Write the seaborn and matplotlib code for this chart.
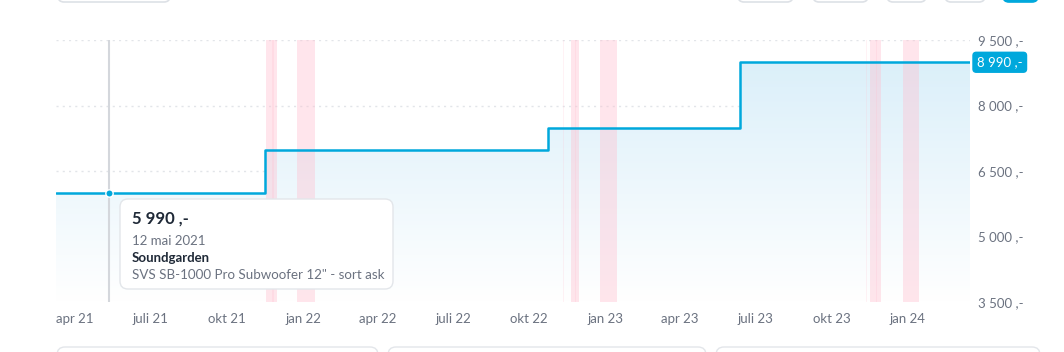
import numpy as np
import pandas as pd
import seaborn as sns
import matplotlib.pyplot as plt
import matplotlib.dates as mdates
from matplotlib.patches import FancyBboxPatch
from matplotlib.colors import LinearSegmentedColormap

# price history (step changes), last point repeats price to the end of the range
change_dates = ["2021-03-09", "2021-11-16", "2022-10-24", "2023-06-12", "2024-03-16"]
prices = [5990, 6990, 7490, 8990, 8990]

# hovered point
hover_date = "2021-05-12"
hover_price = 5990
hover_label = "12 mai 2021"
shop = "Soundgarden"
product = 'SVS SB-1000 Pro Subwoofer 12" - sort ask'

# sale periods (pink bands)
faint_days = ["2021-11-12", "2022-11-11", "2023-11-12"]
bw_start = ["2021-11-18", "2022-11-21", "2023-11-16"]
bw_end = ["2021-12-01", "2022-11-30", "2023-11-29"]
bf_start = ["2021-11-25", "2022-11-25", "2023-11-23"]
bf_end = ["2021-11-27", "2022-11-27", "2023-11-25"]
xmas_start = ["2021-12-25", "2022-12-25", "2023-12-26"]
xmas_end = ["2022-01-15", "2023-01-15", "2024-01-15"]

y_ticks = [3500, 5000, 6500, 8000, 9500]
tick_months = pd.date_range("2021-04-01", "2024-01-01", freq="QS")
month_names = {1: "jan", 4: "apr", 7: "juli", 10: "okt"}

BLUE = "#00a8dc"
GRAY = "#6b7280"
DARK = "#1f2937"

sns.set_style("white")
plt.rcParams["font.family"] = ["Lato", "DejaVu Sans"]

df = pd.DataFrame({"date": pd.to_datetime(change_dates), "price": prices})

fig = plt.figure(figsize=(10.64, 3.52), dpi=100)
ax = fig.add_axes([56 / 1064, 50 / 352, 914 / 1064, 262 / 352])

x0, x1 = pd.Timestamp(change_dates[0]), pd.Timestamp(change_dates[-1])
ax.set_xlim(x0, x1)
ax.set_ylim(3500, 9500)

# gradient fill under the step line
poly = ax.fill_between(df["date"], df["price"], 3500, step="post", facecolor="none", edgecolor="none")
cmap = LinearSegmentedColormap.from_list("fade", ["#ffffff", "#d8eef9"])
grad = np.linspace(0, 1, 256).reshape(-1, 1)
im = ax.imshow(grad, cmap=cmap, aspect="auto", origin="lower",
               extent=[mdates.date2num(x0), mdates.date2num(x1), 3500, 9500], zorder=1)
im.set_clip_path(poly.get_paths()[0], transform=ax.transData)
ax.set_xlim(x0, x1)
ax.set_ylim(3500, 9500)

# grid
for v in y_ticks:
    ax.axhline(v, color="#e2e5e9", lw=1, ls=(0, (1.5, 3)), zorder=0.5)

# sale bands
for d in faint_days:
    s = pd.Timestamp(d)
    ax.axvspan(s, s + pd.Timedelta(days=1), color="#ffc0d0", alpha=0.2, lw=0, zorder=3)
for s, e in zip(bw_start, bw_end):
    ax.axvspan(pd.Timestamp(s), pd.Timestamp(e), color="#ffc0d0", alpha=0.4, lw=0, zorder=3)
for s, e in zip(bf_start, bf_end):
    ax.axvspan(pd.Timestamp(s), pd.Timestamp(e), color="#ffc0d0", alpha=0.25, lw=0, zorder=3)
for s, e in zip(xmas_start, xmas_end):
    ax.axvspan(pd.Timestamp(s), pd.Timestamp(e), color="#ffc0d0", alpha=0.4, lw=0, zorder=3)

# hover line
ax.axvline(pd.Timestamp(hover_date), color="#d4d7dc", lw=1.5, zorder=2)

sns.lineplot(data=df, x="date", y="price", drawstyle="steps-post", color=BLUE, lw=1.8, ax=ax, zorder=4)
ax.scatter([pd.Timestamp(hover_date)], [hover_price], s=28, color=BLUE, edgecolor="white", lw=1, zorder=5)

# axes styling
sns.despine(ax=ax, left=True, bottom=True)
for sp in ax.spines.values():
    sp.set_visible(False)
ax.set_xlabel("")
ax.set_ylabel("")
ax.yaxis.tick_right()
ax.set_yticks(y_ticks)
ax.set_yticklabels([f"{v:,}".replace(",", " ") + " ,-" for v in y_ticks])
ax.tick_params(axis="y", length=0, pad=6, labelsize=9.5, labelcolor=GRAY)
ax.set_xticks(tick_months)
ax.set_xticklabels([f"{month_names[d.month]} {d.strftime('%y')}" for d in tick_months])
ax.tick_params(axis="x", length=4, width=1, color="#d6d9de", pad=4, labelsize=9.5, labelcolor=GRAY)

# current price label
last = prices[-1]
ax.annotate(f"{last:,}".replace(",", " ") + " ,-", xy=(1.0, last), xycoords=("axes fraction", "data"),
            xytext=(5, 0), textcoords="offset points", ha="left", va="center",
            fontsize=9.5, color="white", zorder=6,
            bbox=dict(boxstyle="round,pad=0.3,rounding_size=0.25", fc=BLUE, ec=BLUE))

# overlay for tooltip and UI pieces (pixel coords)
ov = fig.add_axes([0, 0, 1, 1], zorder=10)
ov.set_xlim(0, 1064)
ov.set_ylim(352, 0)
ov.set_axis_off()

ov.add_patch(FancyBboxPatch((120, 199), 273, 90, boxstyle="round,pad=0,rounding_size=8",
                            fc="white", ec="#e3e6ea", lw=1))
ov.text(132, 219, f"{hover_price:,}".replace(",", " ") + " ,-", fontsize=12, fontweight="bold",
        color=DARK, va="center")
ov.text(132, 241, hover_label, fontsize=9.5, color=GRAY, va="center")
ov.text(132, 258, shop, fontsize=9.5, fontweight="bold", color=DARK, va="center")
ov.text(132, 275, product, fontsize=9.6, color=GRAY, va="center")

# cut-off UI buttons at top and panels at bottom
for a, b in [(58, 170), (738, 793), (813, 868), (887, 926), (945, 985)]:
    ov.add_patch(FancyBboxPatch((a, -20), b - a, 22, boxstyle="round,pad=0,rounding_size=6",
                                fc="white", ec="#dde1e6", lw=1.2))
ov.add_patch(FancyBboxPatch((1003, -20), 35, 22, boxstyle="round,pad=0,rounding_size=6",
                            fc=BLUE, ec=BLUE, lw=1.2))
for a, b in [(57, 378), (388, 706), (716, 1040)]:
    ov.add_patch(FancyBboxPatch((a, 347), b - a, 30, boxstyle="round,pad=0,rounding_size=8",
                                fc="white", ec="#e3e6ea", lw=1))

fig.savefig("out.png", dpi=100)
